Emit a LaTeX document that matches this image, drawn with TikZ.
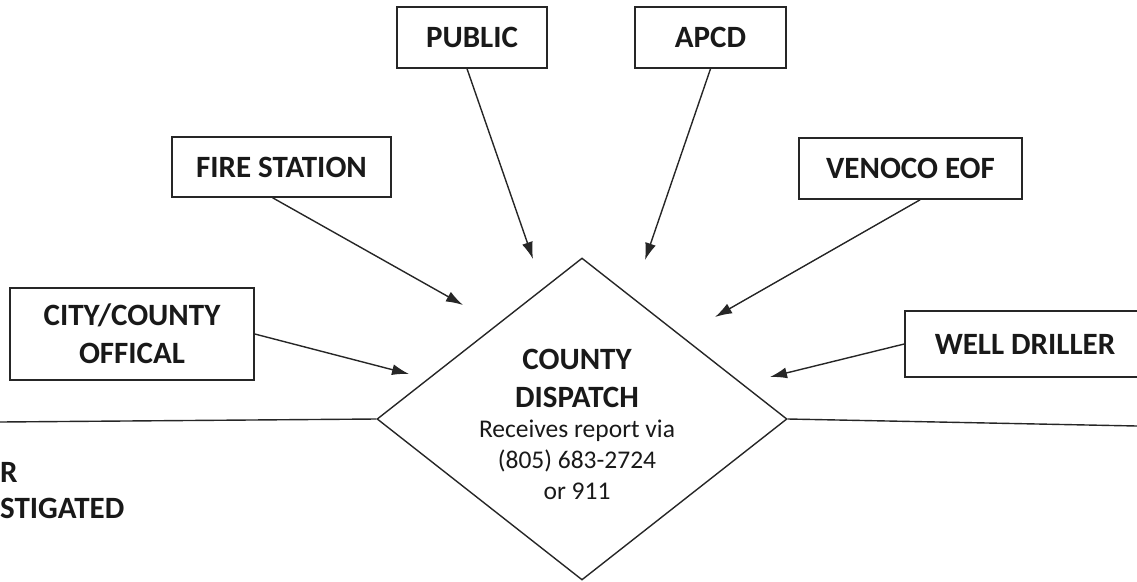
\documentclass[tikz,border=0pt]{standalone}
\usepackage{fontspec}
\setmainfont{Carlito}
\usetikzlibrary{shapes.geometric,arrows.meta}

\begin{document}
\begin{tikzpicture}[x=1pt, y=-1pt, every node/.append style={text=black!90, font=\fontsize{31}{38}\selectfont\bfseries},
	srcbox/.style={draw=black!85, line width=1.6pt, inner sep=0pt, align=center},
	feed/.style={draw=black!85, line width=1.4pt, -{Latex[length=17pt,width=11pt]}}]
	\useasboundingbox (0,0) rectangle (1137,581);
	\clip (0,0) rectangle (1137,581);

	% reporting sources
	\node[srcbox, minimum width=150pt, minimum height=61pt] (public) at (472,37.5) {PUBLIC};
	\node[srcbox, minimum width=151pt, minimum height=61pt] (apcd) at (710.5,37.5) {APCD};
	\node[srcbox, minimum width=219pt, minimum height=60pt] (fire) at (281.5,167) {FIRE STATION};
	\node[srcbox, minimum width=223pt, minimum height=61pt] (venoco) at (910.5,168.5) {VENOCO EOF};
	\node[srcbox, minimum width=244pt, minimum height=92pt] (city) at (132,334) {CITY/COUNTY\\OFFICAL};
	\node[srcbox, minimum width=240pt, minimum height=66pt] (well) at (1025,344) {WELL DRILLER};

	% dispatch
	\node[diamond, draw=black!85, line width=1.4pt, aspect=1.27, inner sep=0pt, minimum width=410pt, minimum height=322pt] (dispatch) at (582,419) {};
	\node[align=center] (dtitle) at (577,378) {COUNTY\\DISPATCH};
	\node[align=center, font=\fontsize{25.5}{31}\selectfont] (dsub) at (577,460) {Receives report via\\(805) 683-2724\\or 911};

	\draw[draw=black!85, line width=1.4pt] (0,422) -- (dispatch.west);
	\draw[draw=black!85, line width=1.4pt] (dispatch.east) -- (1137,426);

	\node[anchor=base west, inner sep=0pt] (lastr) at (0,482) {R};
	\node[anchor=base west, inner sep=0pt] (lastinv) at (0,518) {STIGATED};

	% arrow tips
	\coordinate (tpub) at (533,259);
	\coordinate (tapcd) at (645,260);
	\coordinate (tfire) at (463,305);
	\coordinate (tven) at (715,317);
	\coordinate (tcity) at (409,374);
	\coordinate (twell) at (770,377);

	\foreach \s/\t in {public.-99/tpub, apcd.south/tapcd, fire.-106/tfire, venoco.-73/tven, city.east/tcity, well.west/twell}
	{
		\draw[feed] (\s) -- (\t);
	}
\end{tikzpicture}
\end{document}
